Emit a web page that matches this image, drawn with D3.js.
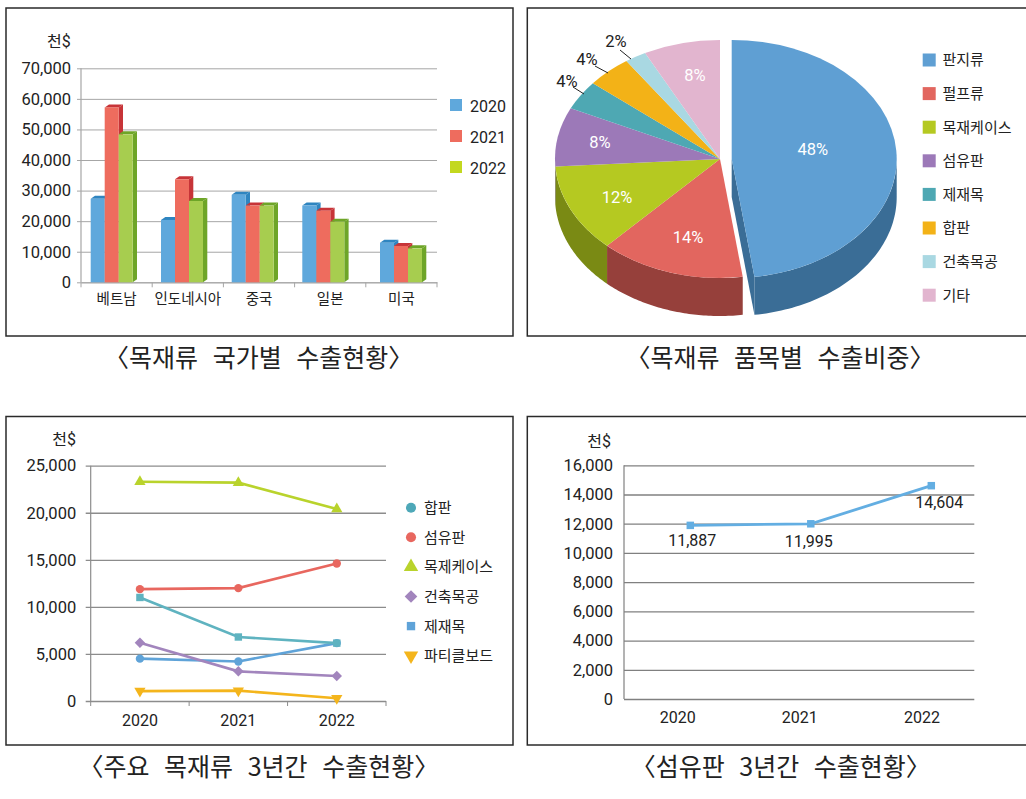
<!doctype html>
<html>
<head>
  <meta charset="utf-8">
  <script src="https://d3js.org/d3.v7.min.js"></script>
  <style>
    html, body { margin: 0; padding: 0; background: #fff; overflow: hidden; }
    text { font-family: Roboto, "Noto Sans CJK KR", sans-serif; fill: #222; }
    .caption { font-family: "Noto Sans CJK KR", sans-serif; font-size: 25px; word-spacing: 9px; text-anchor: middle; }
  </style>
</head>
<body>
<div id="viz"></div>
<script>
// --- data ---
var unit = "천$";

// chart 1: exports by country
var countries = ["베트남", "인도네시아", "중국", "일본", "미국"];
var years = ["2020", "2021", "2022"];
var exports2020 = [27300, 20400, 28600, 25100, 12950];
var exports2021 = [57200, 33700, 25100, 23400, 11900];
var exports2022 = [48400, 26600, 25100, 19800, 11100];

// chart 2: share by item
var items = ["판지류", "펄프류", "목재케이스", "섬유판", "제재목", "합판", "건축목공", "기타"];
var itemShares = [47.8, 14.2, 12, 8, 4, 4.4, 2.1, 7.5];

// chart 3: main items over three years
var lineNames = ["합판", "섬유판", "목제케이스", "건축목공", "제재목", "파티클보드"];
var plywood = [4500, 4200, 6150];
var fiberboard = [11887, 11995, 14604];
var woodCase = [23300, 23200, 20400];
var carpentry = [6200, 3150, 2650];
var lumber = [11000, 6800, 6150];
var particle = [1050, 1100, 300];

// --- styles ---
var barColors = ["#5fa8dc", "#ee6c5e", "#a7cd4f"];
var barSideColors = ["#2f85c0", "#c73438", "#6ea528"];
var barLegendColors = ["#5fa8dc", "#ee6c5e", "#c3d81f"];
var pieColors = ["#5f9fd3", "#e2665f", "#b5c921", "#9c79b8", "#4ea8b3", "#f3b217", "#a9d8e2", "#e2b5cf"];
var pieWallColors = ["#3a6d96", "#96403b", "#7a8a14", "#6d5580", "#37757d", "#aa7c10", "#769799", "#9e7e90"];
var lineColors = ["#5fa3d8", "#e8675f", "#b9d32c", "#a285bd", "#5fb3c0", "#f4b51c"];
var legendColors = ["#4ea8b8", "#e8675f", "#b9d32c", "#a285bd", "#5fa3d8", "#f4b51c"];

var svg = d3.select("#viz").append("svg").attr("width", 1026).attr("height", 799);

function box(x, y, w, h) {
  svg.append("rect").attr("x", x).attr("y", y).attr("width", w).attr("height", h)
    .attr("fill", "#fff").attr("stroke", "#2a2a2a").attr("stroke-width", 1.5);
}

function caption(x, y, label) {
  svg.append("text").attr("class", "caption").attr("x", x).attr("y", y).attr("dy", "0.36em").text(label);
}

function unitLabel(x, y) {
  svg.append("text").attr("x", x).attr("y", y).attr("dy", "0.36em").attr("text-anchor", "end")
    .style("font-size", "16px").text(unit);
}

// y axis with gridlines, shared by the three cartesian charts
function yAxis(y, left, right, step, max, opts) {
  var g = svg.append("g").attr("transform", "translate(" + left + ",0)")
    .call(d3.axisLeft(y).tickValues(d3.range(0, max + 1, step)).tickFormat(d3.format(",")).tickSize(0).tickPadding(opts.pad));
  g.select(".domain").remove();
  g.selectAll("text").style("font-size", opts.font + "px").style("font-family", "Roboto").attr("fill", "#222");
  g.selectAll(".tick").append("line")
    .attr("x1", -opts.tick).attr("x2", right - left)
    .attr("stroke", opts.grid).attr("stroke-width", opts.gridWidth);
  svg.append("line").attr("x1", left).attr("x2", left)
    .attr("y1", y(max)).attr("y2", y(0))
    .attr("stroke", opts.grid).attr("stroke-width", 1.2);
}

// --- chart 1 ---
function drawBars() {
  box(6, 8, 507, 328);
  var left = 81, right = 437;
  var y = d3.scaleLinear().domain([0, 70000]).range([282.3, 68.3]);
  var x = d3.scaleBand().domain(countries).range([left, right]);
  var series = [exports2020, exports2021, exports2022];
  var barW = 14, depthX = 4.3, depthY = 3;
  var groupOffset = [9.7, 8.8, 8.3, 7.7, 14.2];

  yAxis(y, left, right, 10000, 70000, {pad: 10, font: 16.5, tick: 4, grid: "#a6a6a6", gridWidth: 1});

  // bottom ticks and category names
  var b = svg.append("g").attr("transform", "translate(0," + y(0) + ")")
    .call(d3.axisBottom(x).tickSize(0).tickPadding(11));
  b.select(".domain").attr("stroke", "#a6a6a6");
  b.selectAll("text").style("font-size", "14.5px").style("font-family", '"Noto Sans CJK KR"').attr("fill", "#222");
  b.selectAll(".tick-mark").data(x.domain().map(function(d) { return x(d); }).concat(right)).enter().append("line")
    .attr("x1", function(d) { return d; }).attr("x2", function(d) { return d; })
    .attr("y1", 0).attr("y2", 5).attr("stroke", "#a6a6a6");

  countries.forEach(function(c, ci) {
    var g = svg.append("g").attr("transform", "translate(" + (x(c) + groupOffset[ci]) + ",0)");
    series.forEach(function(vals, si) {
      var x0 = si * barW, x1 = x0 + barW, top = y(vals[ci]), base = y(0);
      g.append("polygon").attr("fill", barSideColors[si])
        .attr("points", [[x0, top], [x0 + depthX, top - depthY], [x1 + depthX, top - depthY], [x1, top]].join(" "));
      g.append("polygon").attr("fill", barSideColors[si])
        .attr("points", [[x1, top], [x1 + depthX, top - depthY], [x1 + depthX, base - depthY], [x1, base]].join(" "));
      g.append("rect").attr("x", x0).attr("y", top).attr("width", barW).attr("height", base - top)
        .attr("fill", barColors[si]);
    });
  });

  years.forEach(function(yr, i) {
    var cy = 105 + i * 31;
    svg.append("rect").attr("x", 450).attr("y", cy - 6).attr("width", 12).attr("height", 12).attr("fill", barLegendColors[i]);
    svg.append("text").attr("x", 470).attr("y", cy + 1).attr("dy", "0.36em").style("font-size", "16px").text(yr);
  });

  unitLabel(70.7, 41);
  caption(258.7, 358, "〈목재류 국가별 수출현황〉");
}

// --- chart 2 ---
function drawPie() {
  box(527.3, 8, 520, 328);
  var cx = 720, cy = 159, rx = 165, ry = 119, depth = 38, explode = 11.7;
  var arcs = d3.pie().sort(null)(itemShares);
  var fmt = d3.format(".0f");

  function point(a, dx, dy) {
    return [dx + rx * Math.sin(a), dy - ry * Math.cos(a)];
  }

  function slice(d, i) {
    return i === 0 ? explode : 0;
  }

  var g = svg.append("g").attr("transform", "translate(" + cx + "," + cy + ")");
  var line = d3.line();

  // walls first (only the front half of the ellipse shows)
  arcs.forEach(function(d, i) {
    var a0 = Math.max(d.startAngle, Math.PI / 2), a1 = Math.min(d.endAngle, Math.PI * 1.5);
    if (a1 <= a0) return;
    var ox = slice(d, i);
    var n = 60, top = [], bottom = [];
    d3.range(n + 1).forEach(function(k) {
      var a = a0 + (a1 - a0) * k / n;
      top.push(point(a, ox, 0));
      bottom.unshift(point(a, ox, depth));
    });
    g.append("path").attr("d", line(top.concat(bottom)) + "Z").attr("fill", pieWallColors[i]);
  });

  // cut face of the pulled out slice
  var first = arcs[0];
  var edge = point(first.endAngle, explode, 0);
  g.append("path").attr("fill", pieWallColors[0])
    .attr("d", line([[explode, 0], edge, [edge[0], edge[1] + depth], [explode, depth]]) + "Z");

  // top faces
  var arc = d3.arc().innerRadius(0).outerRadius(ry);
  arcs.forEach(function(d, i) {
    g.append("path").attr("d", arc(d))
      .attr("transform", "translate(" + slice(d, i) + ",0) scale(" + (rx / ry) + ",1)")
      .attr("fill", pieColors[i]);
  });

  // label spots, relative to the pie centre
  var labelSpots = [[92.7, -10], [-32, 78], [-103, 38], [-120, -17], [-153, -78], [-133, -100], [-104, -118], [-25, -84]];
  var outside = [false, false, false, false, true, true, true, false];
  arcs.forEach(function(d, i) {
    g.append("text").attr("x", labelSpots[i][0]).attr("y", labelSpots[i][1]).attr("dy", "0.36em")
      .attr("text-anchor", "middle").style("font-size", "16.5px")
      .style("fill", outside[i] ? "#222" : "#fff")
      .text(fmt(itemShares[i]) + "%");
  });

  // leader lines for the small slices
  var leaders = [[[-147, -72], [-136, -65]], [[-125, -93], [-112, -86]], [[-100, -109], [-89, -100]]];
  leaders.forEach(function(l) {
    g.append("path").attr("d", line(l)).attr("stroke", "#222").attr("stroke-width", 1).attr("fill", "none");
  });

  items.forEach(function(name, i) {
    var ly = 60 + i * 33.6;
    svg.append("rect").attr("x", 922.7).attr("y", ly - 6.5).attr("width", 13).attr("height", 13).attr("fill", pieColors[i]);
    svg.append("text").attr("x", 942.5).attr("y", ly).attr("dy", "0.36em")
      .style("font-size", "15px").style("font-family", '"Noto Sans CJK KR"').text(name);
  });

  caption(780, 358, "〈목재류 품목별 수출비중〉");
}

// --- chart 3 ---
function drawLines() {
  box(6, 416.5, 507, 328.5);
  var left = 90.7, right = 386;
  var y = d3.scaleLinear().domain([0, 25000]).range([701, 465.7]);
  var x = d3.scalePoint().domain(years).range([left, right]).padding(0.5);

  yAxis(y, left, right, 5000, 25000, {pad: 14.5, font: 16.5, tick: 5, grid: "#8c8c8c", gridWidth: 1.3});

  // ticks between the years
  var step = x.step();
  d3.range(4).forEach(function(k) {
    svg.append("line").attr("x1", left + k * step).attr("x2", left + k * step)
      .attr("y1", y(0)).attr("y2", y(0) + 5).attr("stroke", "#8c8c8c");
  });
  years.forEach(function(yr) {
    svg.append("text").attr("x", x(yr)).attr("y", 720).attr("dy", "0.36em").attr("text-anchor", "middle")
      .style("font-size", "16px").text(yr);
  });

  var series = [plywood, fiberboard, woodCase, carpentry, lumber, particle];
  // diamond is a square turned 45 degrees, the particle board triangle points down
  var symbols = [d3.symbolCircle, d3.symbolCircle, d3.symbolTriangle, d3.symbolSquare, d3.symbolSquare, d3.symbolTriangle];
  var turns = ["", "", "", " rotate(45)", "", " rotate(180)"];
  var sizes = [55, 55, 55, 55, 55, 55];
  var legendSizes = [80, 80, 90, 80, 70, 90];
  var line = d3.line().x(function(d, i) { return x(years[i]); }).y(function(d) { return y(d); });

  series.forEach(function(vals, i) {
    svg.append("path").attr("d", line(vals)).attr("fill", "none")
      .attr("stroke", lineColors[i]).attr("stroke-width", 2.6);
    vals.forEach(function(v, k) {
      svg.append("path").attr("d", d3.symbol().type(symbols[i]).size(sizes[i])())
        .attr("transform", "translate(" + x(years[k]) + "," + y(v) + ")" + turns[i])
        .attr("fill", lineColors[i]);
    });
  });

  // in the legend 합판 is the teal circle and 제재목 the blue square
  lineNames.forEach(function(name, i) {
    var ly = 507.7 + i * 29.6;
    svg.append("path").attr("d", d3.symbol().type(symbols[i]).size(legendSizes[i])())
      .attr("transform", "translate(411," + ly + ")" + turns[i])
      .attr("fill", legendColors[i]);
    svg.append("text").attr("x", 424).attr("y", ly).attr("dy", "0.36em")
      .style("font-size", "15px").style("font-family", '"Noto Sans CJK KR"').text(name);
  });

  unitLabel(76, 439);
  caption(258.8, 766.7, "〈주요 목재류 3년간 수출현황〉");
}

// --- chart 4 ---
function drawSingle() {
  box(527.3, 416.5, 520, 328.5);
  var left = 624, right = 974.3;
  var y = d3.scaleLinear().domain([0, 16000]).range([699, 465.3]);
  var xPoint = d3.scalePoint().domain(years).range([690.3, 931.3]);
  var xLabel = d3.scalePoint().domain(years).range([677.7, 922]);

  yAxis(y, left, right, 2000, 16000, {pad: 11, font: 16.5, tick: 0, grid: "#808080", gridWidth: 1.3});

  years.forEach(function(yr) {
    svg.append("text").attr("x", xLabel(yr)).attr("y", 717).attr("dy", "0.36em").attr("text-anchor", "middle")
      .style("font-size", "16px").text(yr);
  });

  var line = d3.line().x(function(d, i) { return xPoint(years[i]); }).y(function(d) { return y(d); });
  svg.append("path").attr("d", line(fiberboard)).attr("fill", "none").attr("stroke", "#63aee2").attr("stroke-width", 2.8);

  var nudge = [[2, 15], [-2, 17], [8, 17]];
  fiberboard.forEach(function(v, k) {
    svg.append("path").attr("d", d3.symbol().type(d3.symbolSquare).size(56)())
      .attr("transform", "translate(" + xPoint(years[k]) + "," + y(v) + ")").attr("fill", "#63aee2");
    svg.append("text").attr("x", xPoint(years[k]) + nudge[k][0]).attr("y", y(v) + nudge[k][1]).attr("dy", "0.36em")
      .attr("text-anchor", "middle").style("font-size", "16px").text(d3.format(",")(v));
  });

  unitLabel(611, 441.7);
  caption(780.8, 766.7, "〈섬유판 3년간 수출현황〉");
}

drawBars();
drawPie();
drawLines();
drawSingle();
</script>
</body>
</html>
